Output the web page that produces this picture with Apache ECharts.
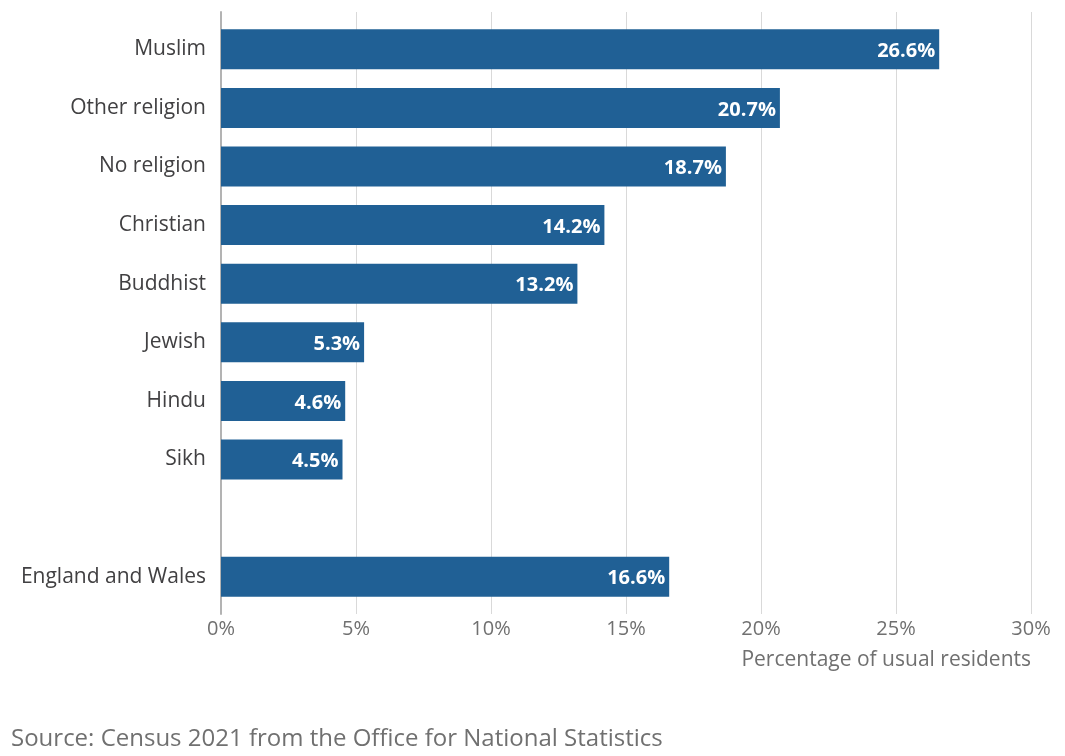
<!DOCTYPE html>
<html><head><meta charset="utf-8">
<script src="https://cdn.jsdelivr.net/npm/echarts@6/dist/echarts.min.js"></script>
<style>html,body{margin:0;padding:0;background:#fff}#c{width:1065px;height:756px}</style>
</head><body><div id="c"></div>
<script>
const categories = ['Muslim','Other religion','No religion','Christian','Buddhist','Jewish','Hindu','Sikh','','England and Wales'];
const values = [26.6, 20.7, 18.7, 14.2, 13.2, 5.3, 4.6, 4.5, null, 16.6];
const xTicks = [0, 5, 10, 15, 20, 25, 30];
const axisTitle = 'Percentage of usual residents';
const sourceText = 'Source: Census 2021 from the Office for National Statistics';

const FONT = '"Open Sans", "Noto Sans", sans-serif';
const chart = echarts.init(document.getElementById('c'));
chart.setOption({
  animation: false,
  textStyle: {fontFamily: FONT},
  grid: [
    {left: 221, right: 34, top: 20, bottom: 150},
    {left: 221, right: 34, top: 12, bottom: 142}
  ],
  xAxis: [
    {gridIndex: 0, type: 'value', min: xTicks[0], max: xTicks[xTicks.length-1], interval: 5,
     axisLine: {show: false}, axisTick: {show: false}, splitLine: {show: false},
     axisLabel: {show: false}},
    {gridIndex: 1, type: 'value', min: xTicks[0], max: xTicks[xTicks.length-1], interval: 5,
     axisLine: {show: false}, axisTick: {show: false},
     splitLine: {show: true, lineStyle: {color: '#d9d9d9', width: 1}},
     axisLabel: {color: '#707070', fontSize: 20, fontFamily: FONT, margin: 5, formatter: v => v + '%'}}
  ],
  yAxis: [
    {gridIndex: 0, type: 'category', data: categories, inverse: true,
     axisLine: {show: false}, axisTick: {show: false},
     axisLabel: {color: '#414042', fontSize: 21, fontFamily: FONT, margin: 15, padding: [4, 0, 0, 0]}},
    {gridIndex: 1, type: 'value', min: 0, max: 1,
     axisLine: {show: true, onZero: false, lineStyle: {color: '#b3b3b3', width: 2}},
     axisTick: {show: false}, axisLabel: {show: false}, splitLine: {show: false}}
  ],
  series: [{
    type: 'bar', xAxisIndex: 0, yAxisIndex: 0, data: values, barWidth: 40,
    itemStyle: {color: '#206095'}, z: 5,
    label: {show: true, position: 'insideRight', color: '#ffffff', fontWeight: 'bold',
      fontSize: 20, fontFamily: FONT, offset: [1, 2],
      formatter: p => p.value == null ? '' : p.value.toFixed(1) + '%'}
  }],
  graphic: [
    {type: 'text', right: 34, top: 650, style: {text: axisTitle, fill: '#707070', font: '21px ' + FONT}},
    {type: 'text', left: 11, top: 727, style: {text: sourceText, fill: '#707070', font: '24px ' + FONT}}
  ]
});
</script></body></html>
